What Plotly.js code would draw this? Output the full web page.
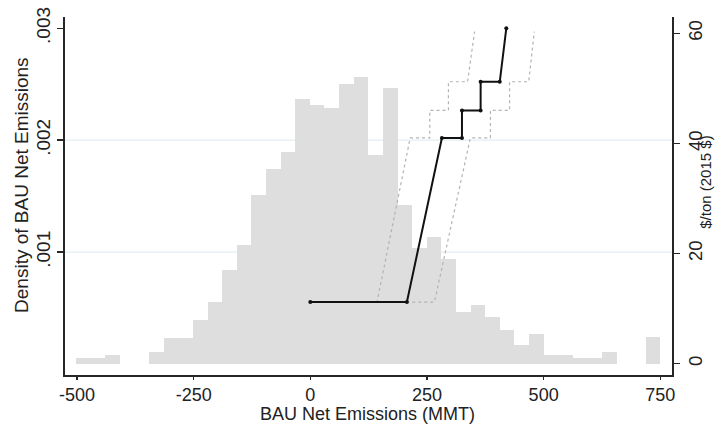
<!DOCTYPE html>
<html>
<head>
<meta charset="utf-8">
<script src="https://cdn.plot.ly/plotly-3.0.1.min.js"></script>
<style>html,body{margin:0;padding:0;background:#fff;}#chart{width:719px;height:424px;}</style>
</head>
<body>
<div id="chart"></div>
<script>
// Histogram of BAU net emissions (MMT): bin centres and densities
var binCenters = [-486.1, -454.8, -423.5, -392.2, -360.9, -329.6, -298.3, -267.0, -235.7, -204.4,
                  -173.1, -141.8, -110.5, -79.2, -47.9, -16.6, 14.7, 46.0, 77.3, 108.6,
                  139.9, 171.2, 202.5, 233.8, 265.1, 296.4, 327.7, 359.0, 390.3, 421.6,
                  452.9, 484.2, 515.5, 546.8, 578.1, 609.4, 640.7, 672.0, 703.3, 734.6];
var densities = [0.000054, 0.000054, 0.00008, 0, 0, 0.000107, 0.000232, 0.000232, 0.000393, 0.000554,
                 0.00084, 0.001063, 0.00151, 0.001743, 0.001895, 0.002368, 0.002315, 0.002288, 0.002502, 0.002565,
                 0.001868, 0.002466, 0.001421, 0.001037, 0.001135, 0.000938, 0.000465, 0.000527, 0.00042, 0.000304,
                 0.00017, 0.000268, 0.00008, 0.00008, 0.000054, 0.000054, 0.000107, 0, 0, 0.000241];
var binWidth = 31.3;

// Allowance price path ($/ton, 2015 $) against BAU net emissions
var priceX = [0, 207, 282, 325, 325, 365, 365, 406, 420];
var priceY = [11.2, 11.2, 41.0, 41.0, 46.0, 46.0, 51.2, 51.2, 60.9];
var lowerX = [0, 143, 214, 256, 256, 296, 296, 337, 352];
var lowerY = [11.2, 11.2, 41.0, 41.0, 46.0, 46.0, 51.2, 51.2, 60.3];
var upperX = [0, 266, 343, 386, 386, 427, 427, 468, 480];
var upperY = [11.2, 11.2, 41.0, 41.0, 46.0, 46.0, 51.2, 51.2, 60.3];

// Tick labels
var xTicks = [-500, -250, 0, 250, 500, 750];
var xTickText = ['-500', '-250', '0', '250', '500', '750'];
var yTicks = [0.001, 0.002, 0.003];
var yTickText = ['.001', '.002', '.003'];
var y2Ticks = [0, 20, 40, 60];
var gridVals = [0.001, 0.002];

var FONT = 'Arial, "Liberation Sans", sans-serif';
var AX = '#262626';

var traces = [
  {type: 'bar', x: binCenters, y: densities, width: binWidth,
   marker: {color: '#dedede', line: {width: 0}}, xaxis: 'x', yaxis: 'y', hoverinfo: 'skip'},
  {type: 'scatter', mode: 'lines', x: lowerX, y: lowerY, xaxis: 'x', yaxis: 'y2',
   line: {color: '#b3b3b3', width: 1.2, dash: 'dot'}},
  {type: 'scatter', mode: 'lines', x: upperX, y: upperY, xaxis: 'x', yaxis: 'y2',
   line: {color: '#b3b3b3', width: 1.2, dash: 'dot'}},
  {type: 'scatter', mode: 'lines+markers', x: priceX, y: priceY, xaxis: 'x', yaxis: 'y2',
   line: {color: '#111', width: 2}, marker: {color: '#111', size: 4}}
];

var shapes = gridVals.map(function(v){
  return {type: 'line', xref: 'paper', x0: 0, x1: 1, yref: 'y', y0: v, y1: v,
          line: {color: '#e3eef1', width: 1.2}, layer: 'below'};
});

var layout = {
  width: 719, height: 424,
  margin: {l: 65, r: 47, t: 17, b: 49, pad: 0},
  paper_bgcolor: '#fff', plot_bgcolor: '#fff',
  showlegend: false, bargap: 0,
  font: {family: FONT, size: 18, color: '#222'},
  xaxis: {range: [-525.7, 775.1], tickvals: xTicks, ticktext: xTickText, ticks: 'outside', ticklen: 3,
          tickwidth: 1.5, tickcolor: AX, showline: true, linecolor: AX, linewidth: 1.8,
          showgrid: false, zeroline: false, tickfont: {size: 18}, ticklabelstandoff: 0},
  yaxis: {range: [-0.0000983, 0.003101], tickvals: yTicks, ticktext: yTickText,
          tickangle: -90, ticks: 'outside', ticklen: 6, tickwidth: 1.5, tickcolor: AX,
          showline: true, linecolor: AX, linewidth: 1.8, showgrid: false, zeroline: false,
          tickfont: {size: 19}},
  yaxis2: {range: [-2.05, 62.96], overlaying: 'y', side: 'right', tickvals: y2Ticks,
           tickangle: -90, ticks: 'outside', ticklen: 6, tickwidth: 1.5, tickcolor: AX,
           showline: true, linecolor: AX, linewidth: 1.8, showgrid: false, zeroline: false,
           tickfont: {size: 18.5}},
  shapes: shapes,
  annotations: [
    {text: 'BAU Net Emissions (MMT)', xref: 'paper', yref: 'paper', x: 0.499, y: -0.1085,
     xanchor: 'center', yanchor: 'middle', showarrow: false, font: {size: 18, color: '#222'}},
    {text: 'Density of BAU Net Emissions', xref: 'paper', yref: 'paper', x: -0.0708, y: 0.531,
     xanchor: 'center', yanchor: 'middle', textangle: -90, showarrow: false,
     font: {size: 19, color: '#222'}},
    {text: '$/ton (2015 $)', xref: 'paper', yref: 'paper', x: 1.0539, y: 0.539,
     xanchor: 'center', yanchor: 'middle', textangle: -90, showarrow: false,
     font: {size: 15, color: '#222'}}
  ]
};

Plotly.newPlot('chart', traces, layout, {staticPlot: true, displayModeBar: false});
</script>
</body>
</html>
